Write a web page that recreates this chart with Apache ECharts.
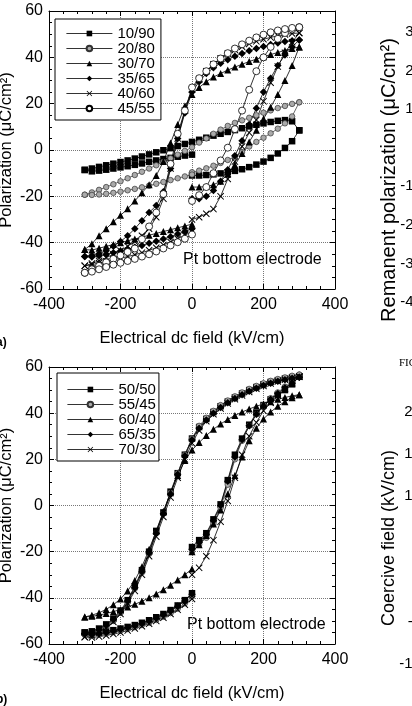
<!DOCTYPE html>
<html>
<head>
<meta charset="utf-8">
<script src="https://cdn.jsdelivr.net/npm/echarts@6/dist/echarts.min.js"></script>
<style>
html, body { margin: 0; padding: 0; background: #fff; }
#chart { width: 412px; height: 706px; }
</style>
</head>
<body>
<div id="chart"></div>
<script>
// field steps, kV/cm (lower branch has two points at 0: end and start of the sweep)
var fieldUpper = [-300,-280,-260,-240,-220,-200,-180,-160,-140,-120,-100,-80,-60,-40,-20,0,20,40,60,80,100,120,140,160,180,200,220,240,260,280,300];
var fieldLower = [-300,-280,-260,-240,-220,-200,-180,-160,-140,-120,-100,-80,-60,-40,-20,0,0,20,40,60,80,100,120,140,160,180,200,220,240,260,280,300];

// (a) polarization, uC/cm2
var up_10_90 = [-8.6,-8.0,-7.3,-6.6,-5.9,-5.2,-4.5,-3.7,-2.8,-1.9,-1.0,-0.1,0.8,1.7,2.6,3.5,4.4,5.3,6.2,7.0,7.8,8.6,9.4,10.2,10.9,11.5,12.1,12.6,12.9,12.4,8.5];
var lo_10_90 = [-8.6,-9.2,-8.9,-8.5,-8.0,-7.5,-7.0,-6.4,-5.8,-5.1,-4.5,-3.9,-3.4,-2.9,-2.4,-2.0,-11.0,-11.0,-10.8,-10.5,-10.1,-9.6,-9.0,-8.3,-7.4,-6.3,-5.0,-3.4,-1.5,0.9,3.8,8.5];
var up_20_80 = [-19.3,-18.3,-17.2,-16.0,-14.8,-13.5,-12.2,-10.8,-9.4,-8.0,-6.6,-5.1,-3.6,-2.0,-0.4,1.2,3.2,5.0,7.0,8.8,10.4,11.7,12.8,13.9,15.0,16.1,17.1,18.1,19.0,19.9,20.6];
var lo_20_80 = [-19.3,-19.4,-19.2,-18.9,-18.5,-18.0,-17.4,-16.8,-16.1,-15.4,-14.6,-13.8,-13.0,-12.2,-11.4,-10.6,-9.6,-8.9,-7.9,-6.8,-5.6,-4.3,-2.8,-0.9,1.5,3.5,5.3,7.2,9.2,11.5,14.5,20.6];
var up_30_70 = [-43,-40.5,-37,-34,-31,-28.2,-25.4,-22,-18.5,-15,-11,-5,3,11,19,24,27,29.5,31.5,33,34.5,35.8,37,38.2,39.2,40.2,41.2,42.1,43,43.8,44.5];
var lo_30_70 = [-43,-43.2,-42.4,-41.6,-40.8,-40,-39.2,-38.4,-37.6,-36.8,-36,-35.2,-34.4,-33.6,-32.8,-32,-16,-16,-15.8,-15,-13.5,-10.5,-6.5,-1.5,3.5,8.5,13.5,18.5,24,30,36.5,44.5];
var up_35_65 = [-46,-45.5,-44.8,-43.5,-41.5,-39.5,-37,-34,-30.5,-27,-24,-18,-8,5,16,25,29.5,33,35.5,37.5,39,40.5,41.7,42.8,43.8,44.7,45.5,46.2,46.8,47.2,47.5];
var lo_35_65 = [-46,-46.2,-45.7,-45,-44.3,-43.6,-42.8,-42,-41.2,-40.3,-39.4,-38.4,-37.4,-36.3,-35.2,-34,-21,-21,-20,-17.5,-13.5,-8.5,-2.5,4,11,18,25,31,36.5,41,44.5,47.5];
var up_40_60 = [-50,-49,-47.8,-46.5,-45,-43.5,-41.5,-39.5,-37,-34,-29,-21,-8,5,17,26,30.5,34,37,39.5,41.5,43.2,44.6,45.8,46.9,47.8,48.6,49.3,49.9,50.3,50.5];
var lo_40_60 = [-50,-49.5,-48.8,-48.1,-47.4,-46.7,-46,-45.2,-44.3,-43.3,-42.2,-41,-39.7,-38.3,-36.8,-35.2,-30,-29,-27.5,-25.5,-20,-12.5,-5,1.5,7.5,13,21,29,36,42,46.5,50.5];
var up_45_55 = [-53,-51.5,-50,-48.5,-47,-45.5,-44,-42.5,-38.5,-33,-27,-19,-6,7,17,27,31,34,37,39.5,41.8,43.8,45.6,47.2,48.6,49.8,50.8,51.6,52.2,52.7,53];
var lo_45_55 = [-53,-52.5,-51.5,-50.5,-49.5,-48.7,-47.9,-47,-46,-45,-43.8,-42.5,-41.2,-39.8,-38.3,-36.5,-22,-19.5,-16,-10,-4.5,1,9,17,26,34,40,44.5,48,50.5,52,53];

// (b)
var up_50_50 = [-55,-54.5,-53.3,-51.5,-49,-45.5,-41,-35,-28,-20,-11,-3,6,14,22,29,34,37.5,40.5,43,45,46.8,48.5,50,51.3,52.5,53.5,54.3,55,55.6,56];
var lo_50_50 = [-55,-55.3,-55,-54.5,-54,-53.3,-52.6,-51.8,-50.8,-49.7,-48.4,-47,-45.3,-43.3,-41,-38,-18,-15,-12,-6,0.5,11,22,29,35,40,43.5,46,48,50,52.5,56];
var up_55_45 = [-56,-55.5,-54.3,-52.5,-50,-46.5,-42,-36,-29,-21,-12,-3.5,5.5,14,22,29,34.5,38,41,43.5,45.5,47.3,49,50.5,51.8,53,54,54.8,55.5,56.2,56.7];
var lo_55_45 = [-56,-56.2,-55.9,-55.4,-54.8,-54.2,-53.5,-52.7,-51.8,-50.8,-49.6,-48.2,-46.6,-44.7,-42.4,-39.5,-20,-17,-14,-8,-1,9,20,28,34.5,39.5,43.5,46.5,49,51.5,53.5,56.7];
var up_60_40 = [-48.3,-47.5,-46.5,-45,-43,-40.5,-37,-32.5,-26.5,-19,-11,-2.5,5.5,13,19.5,24,27.3,30.3,33,35.3,37.3,39,40.5,41.8,43,44,45,46,46.8,47.5,48];
var lo_60_40 = [-48.3,-48,-47.5,-46.8,-46,-45,-44,-42.8,-41.5,-40,-38.3,-36.5,-34.5,-32.3,-30,-27.5,-20,-17,-13,-8,-2,5,13,21,28,33.5,37.5,40.5,43,45,46.7,48];
var up_65_35 = [-55.5,-55,-53.8,-52,-49.5,-46,-41.5,-35.5,-28.5,-20.5,-12,-3.5,5,13.5,21.5,28.5,33.5,37,40,42.5,44.5,46.3,48,49.5,50.8,52,53,53.8,54.5,55.1,55.6];
var lo_65_35 = [-55.5,-55.8,-55.5,-55,-54.4,-53.7,-53,-52.2,-51.2,-50.1,-48.8,-47.4,-45.7,-43.7,-41.4,-38.5,-19,-16,-12.5,-6.5,0,10.5,21,28.5,34.5,39.5,43,46,48.5,51,53,55.6];
var up_70_30 = [-57,-56.3,-55,-53,-50.5,-47,-42.5,-37,-30,-22,-13.5,-5,3.5,12,20,27,32.5,36.5,39.5,42,44.2,46,47.7,49.2,50.6,51.8,52.8,53.7,54.5,55.2,55.8];
var lo_70_30 = [-57,-57.2,-56.8,-56.3,-55.7,-55,-54.2,-53.3,-52.3,-51.2,-50,-48.6,-47,-45.2,-43,-40.5,-30,-27,-22,-15,-7,2,12,22,30,36,41,44.5,47.5,50.5,53,55.8];

var namesA = ['10/90', '20/80', '30/70', '35/65', '40/60', '45/55'];
var namesB = ['50/50', '55/45', '60/40', '65/35', '70/30'];

var FONT = '"Liberation Sans", Arial, Helvetica, sans-serif';
var CROSS = 'path://M0,1L1,0L5,4L9,0L10,1L6,5L10,9L9,10L5,6L1,10L0,9L4,5Z';

// sweep order: 0 -> +max -> -max -> 0
function loopPoints(lo, up) {
    var pts = [], i;
    for (i = 16; i < fieldLower.length; i++) pts.push([fieldLower[i], lo[i]]);
    for (i = fieldUpper.length - 1; i >= 0; i--) pts.push([fieldUpper[i], up[i]]);
    for (i = 0; i < 16; i++) pts.push([fieldLower[i], lo[i]]);
    return pts;
}

var styles = {
    square: {symbol: 'rect', size: 6.5, item: {color: '#000'}},
    gray:   {symbol: 'circle', size: 5.5, item: {color: '#aaa', borderColor: '#333', borderWidth: 0.7}, line: '#444'},
    tri:    {symbol: 'triangle', size: 7, item: {color: '#000'}},
    dia:    {symbol: 'diamond', size: 7.5, item: {color: '#000'}},
    cross:  {symbol: CROSS, size: 7, item: {color: '#000'}},
    open:   {symbol: 'circle', size: 7, item: {color: '#fff', borderColor: '#000', borderWidth: 0.8}}
};

function loopSeries(name, g, lo, up, st) {
    return {
        name: name, type: 'line',
        xAxisIndex: g * 2, yAxisIndex: g * 2,
        data: loopPoints(lo, up),
        symbol: st.symbol, symbolSize: st.size,
        showSymbol: true,
        lineStyle: {color: st.line || '#000', width: 0.8},
        itemStyle: st.item,
        emphasis: {disabled: true},
        silent: true
    };
}

function fieldAxis(g, top) {
    return {
        gridIndex: g, type: 'value', min: -400, max: 400, interval: 200,
        position: top ? 'top' : 'bottom',
        axisLine: {onZero: false, lineStyle: {color: '#000', width: 1}},
        axisTick: {inside: true, length: 5, lineStyle: {color: '#000'}},
        minorTick: {show: true, splitNumber: 5, length: 3, lineStyle: {color: '#000'}},
        axisLabel: {show: !top, fontSize: 16, color: '#000', margin: 8, fontFamily: FONT},
        splitLine: {show: !top, lineStyle: {color: '#777', type: 'dotted', width: 1}},
        name: top ? '' : 'Electrical dc field (kV/cm)',
        nameLocation: 'middle', nameGap: 41, nameMoveOverlap: false,
        nameTextStyle: {fontSize: 16.5, color: '#000', fontFamily: FONT}
    };
}

function polAxis(g, right) {
    return {
        gridIndex: g, type: 'value', min: -60, max: 60, interval: 20,
        position: right ? 'right' : 'left',
        axisLine: {onZero: false, lineStyle: {color: '#000', width: 1}},
        axisTick: {inside: true, length: 5, lineStyle: {color: '#000'}},
        minorTick: {show: true, splitNumber: 4, length: 3, lineStyle: {color: '#000'}},
        axisLabel: {show: !right, fontSize: 16, color: '#000', margin: 6, fontFamily: FONT},
        splitLine: {show: !right, lineStyle: {color: '#777', type: 'dotted', width: 1}},
        name: right ? '' : 'Polarization (\u03bcC/cm\u00b2)',
        nameLocation: 'middle', nameGap: 34, nameMoveOverlap: false,
        nameTextStyle: {fontSize: 16.5, color: '#000', fontFamily: FONT}
    };
}

// clipped neighbour panels on the right edge
function sideAxis(g, min, max, interval, name, nameSize, namePad) {
    return {
        gridIndex: g, type: 'value', min: min, max: max, interval: interval,
        axisLine: {show: false}, axisTick: {show: false}, splitLine: {show: false},
        axisLabel: {fontSize: 15, color: '#000', margin: 8, fontFamily: FONT},
        name: name, nameLocation: 'middle', nameGap: 31, nameMoveOverlap: false,
        nameTextStyle: {fontSize: nameSize, color: '#000', fontFamily: FONT, padding: namePad}
    };
}

function legendFor(names, left, top, pad) {
    return {
        data: names, orient: 'vertical', left: left, top: top,
        itemWidth: 46, itemHeight: 7, itemGap: 0, padding: pad,
        borderColor: '#000', borderWidth: 1, backgroundColor: '#fff',
        selectedMode: false,
        lineStyle: {width: 0.8, color: '#000'},
        textStyle: {fontSize: 15, lineHeight: 14.3, color: '#000', fontFamily: FONT}
    };
}

var option = {
    backgroundColor: '#fff',
    animation: false,
    textStyle: {fontFamily: FONT, color: '#000'},
    grid: [
        {left: 49, top: 11, width: 286, height: 278, outerBoundsMode: 'none'},
        {left: 49, top: 367, width: 286, height: 277, outerBoundsMode: 'none'},
        {left: 430, top: 32, width: 100, height: 270, outerBoundsMode: 'none'},
        {left: 429, top: 412, width: 100, height: 252, outerBoundsMode: 'none'}
    ],
    xAxis: [
        fieldAxis(0, false), fieldAxis(0, true),
        fieldAxis(1, false), fieldAxis(1, true),
        {gridIndex: 2, type: 'value', show: false},
        {gridIndex: 3, type: 'value', show: false}
    ],
    yAxis: [
        polAxis(0, false), polAxis(0, true),
        polAxis(1, false), polAxis(1, true),
        sideAxis(2, -40, 30, 10, 'Remanent polarization (\u03bcC/cm\u00b2)', 20, [0, 26, 0, 0]),
        sideAxis(3, -10, 20, 5, 'Coercive field (kV/cm)', 18, 0)
    ],
    legend: [
        legendFor(namesA, 55, 19, [7, 6, 4, 11]),
        legendFor(namesB, 57, 373, [9, 3, 4, 10])
    ],
    graphic: [
        {type: 'text', left: 183, top: 252, style: {text: 'Pt bottom electrode', font: '16px ' + FONT, fill: '#000'}},
        {type: 'text', left: 187, top: 617, style: {text: 'Pt bottom electrode', font: '16px ' + FONT, fill: '#000'}},
        {type: 'text', left: -8, top: 337, style: {text: '(a)', font: 'bold 12px ' + FONT, fill: '#000'}},
        {type: 'text', left: -8, top: 694, style: {text: '(b)', font: 'bold 12px ' + FONT, fill: '#000'}},
        {type: 'text', left: 399, top: 358, style: {text: 'FIG. 2.', font: '11px "Liberation Serif", serif', fill: '#000'}}
    ],
    series: [
        loopSeries('10/90', 0, lo_10_90, up_10_90, styles.square),
        loopSeries('20/80', 0, lo_20_80, up_20_80, styles.gray),
        loopSeries('30/70', 0, lo_30_70, up_30_70, styles.tri),
        loopSeries('35/65', 0, lo_35_65, up_35_65, styles.dia),
        loopSeries('40/60', 0, lo_40_60, up_40_60, styles.cross),
        loopSeries('45/55', 0, lo_45_55, up_45_55, styles.open),
        loopSeries('50/50', 1, lo_50_50, up_50_50, styles.square),
        loopSeries('55/45', 1, lo_55_45, up_55_45, styles.gray),
        loopSeries('60/40', 1, lo_60_40, up_60_40, styles.tri),
        loopSeries('65/35', 1, lo_65_35, up_65_35, styles.dia),
        loopSeries('70/30', 1, lo_70_30, up_70_30, styles.cross)
    ]
};

var chart = echarts.init(document.getElementById('chart'), null, {renderer: 'canvas'});
chart.setOption(option);
</script>
</body>
</html>
